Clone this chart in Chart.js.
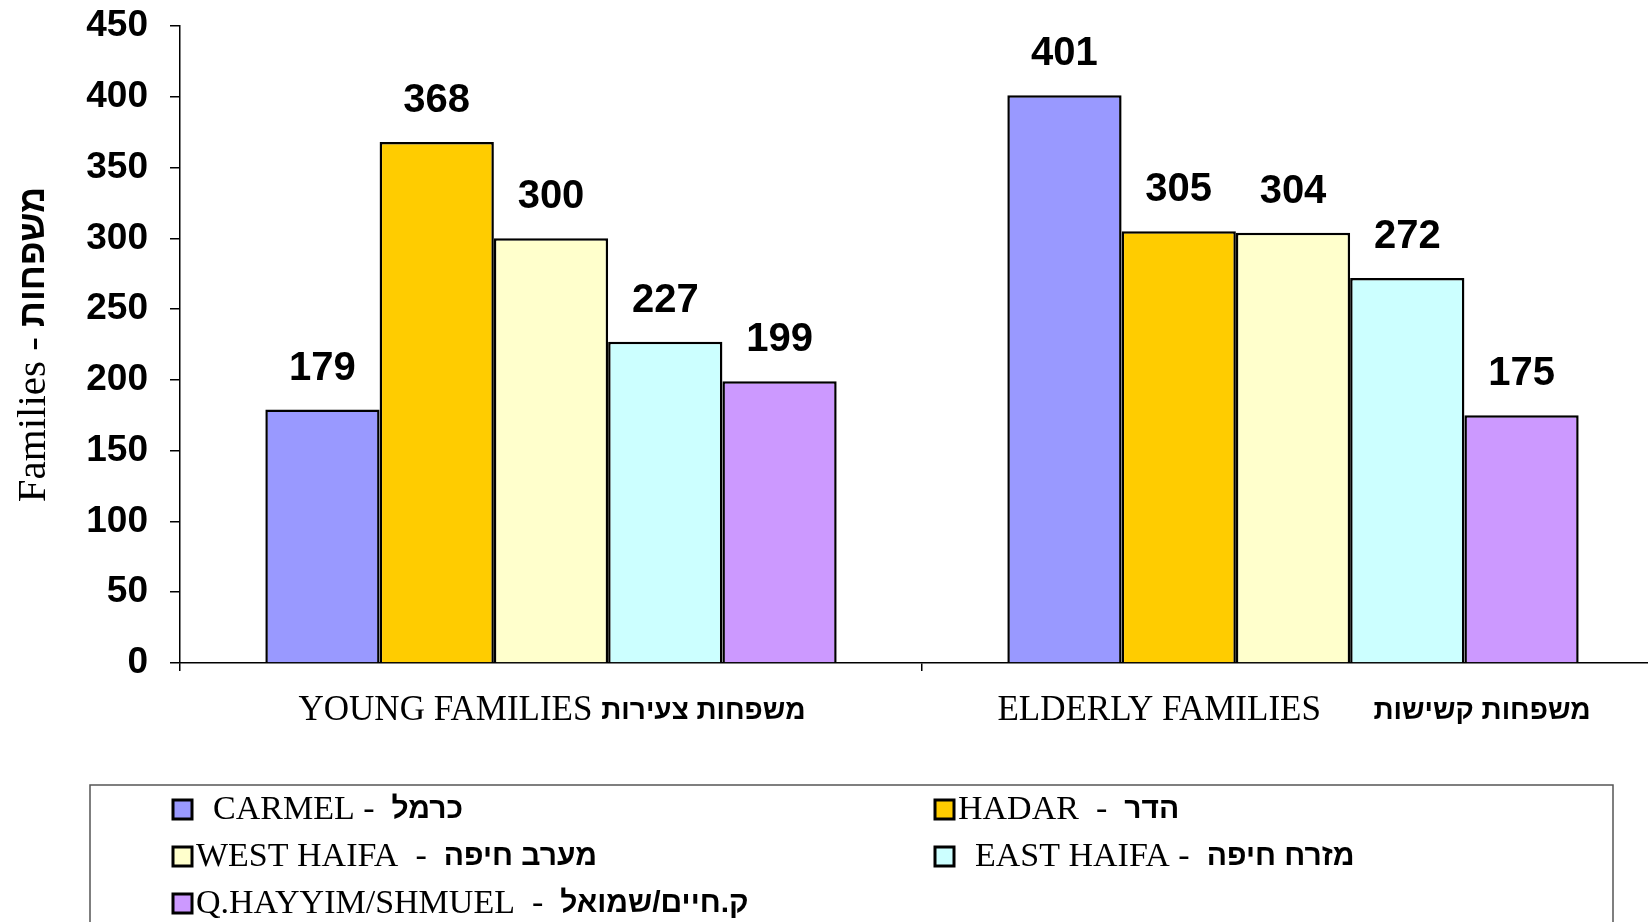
<!DOCTYPE html>
<html>
<head>
<meta charset="utf-8">
<script src="https://cdn.jsdelivr.net/npm/chart.js@4.4.1/dist/chart.umd.min.js"></script>
<style>
  html, body { margin: 0; padding: 0; background: #fff; overflow: hidden; }
  #wrap { position: relative; width: 1664px; height: 922px; }
</style>
</head>
<body>
<div id="wrap"><canvas id="chart"></canvas></div>
<script>
// data
const categories = ['YOUNG FAMILIES', 'ELDERLY FAMILIES'];
const categoriesHebrew = ['משפחות צעירות', 'משפחות קשישות'];
const seriesNames = ['CARMEL', 'HADAR', 'WEST HAIFA', 'EAST HAIFA', 'Q.HAYYIM/SHMUEL'];
const seriesHebrew = ['כרמל', 'הדר', 'מערב חיפה', 'מזרח חיפה', 'ק.חיים/שמואל'];
const carmel = [179, 401];
const hadar = [368, 305];
const westHaifa = [300, 304];
const eastHaifa = [227, 272];
const qHayyim = [199, 175];
const yTitleLatin = 'Families - ';
const yTitleHebrew = 'משפחות';

const seriesColors = ['#9999FF', '#FFCC00', '#FFFFCC', '#CCFFFF', '#CC99FF'];
const seriesValues = [carmel, hadar, westHaifa, eastHaifa, qHayyim];

const SERIF = '"Liberation Serif", "Times New Roman", serif';
const SANS = '"Liberation Sans", Arial, sans-serif';

// draws the value labels, the mixed-script axis texts and the legend box
const extrasPlugin = {
  id: 'extras',
  afterDraw(chart) {
    const ctx = chart.ctx;
    const area = chart.chartArea;
    const xScale = chart.scales.x;
    ctx.save();

    // values above bars
    ctx.fillStyle = '#000';
    ctx.font = 'bold 40px ' + SANS;
    ctx.textAlign = 'center';
    ctx.textBaseline = 'middle';
    chart.data.datasets.forEach((ds, di) => {
      const meta = chart.getDatasetMeta(di);
      meta.data.forEach((bar, i) => {
        ctx.fillText(String(ds.data[i]), bar.x, bar.y - 41);
      });
    });

    // category labels
    ctx.textAlign = 'left';
    categories.forEach((cat, i) => {
      const latin = cat + (i === 0 ? ' ' : '      ');
      ctx.font = '35px ' + SERIF;
      const wl = ctx.measureText(latin).width;
      ctx.font = 'bold 28px ' + SANS;
      const wh = ctx.measureText(categoriesHebrew[i]).width;
      const cx = xScale.getPixelForValue(i);
      const x0 = cx - (wl + wh) / 2 + 1;
      const y = area.bottom + 48;
      ctx.font = '35px ' + SERIF;
      ctx.fillText(latin, x0, y);
      ctx.font = 'bold 28px ' + SANS;
      ctx.fillText(categoriesHebrew[i], x0 + wl, y);
    });

    // y axis title
    ctx.save();
    ctx.translate(34, (area.top + area.bottom) / 2);
    ctx.rotate(-Math.PI / 2);
    ctx.font = '41px ' + SERIF;
    const tl = ctx.measureText(yTitleLatin).width;
    ctx.font = 'bold 36px ' + SANS;
    const th = ctx.measureText(yTitleHebrew).width;
    const t0 = -(tl + th) / 2;
    ctx.font = '41px ' + SERIF;
    ctx.fillText(yTitleLatin, t0, 0);
    ctx.font = 'bold 36px ' + SANS;
    ctx.fillText(yTitleHebrew, t0 + tl, 0);
    ctx.restore();

    // legend box
    ctx.strokeStyle = '#555';
    ctx.lineWidth = 1.5;
    ctx.strokeRect(90, 785, 1523, 160);
    const colX = [173, 935];
    const rowY = [810, 857, 904];
    seriesNames.forEach((name, i) => {
      const x = colX[i % 2];
      const y = rowY[Math.floor(i / 2)];
      ctx.fillStyle = seriesColors[i];
      ctx.fillRect(x, y - 10, 19, 19);
      ctx.strokeStyle = '#000';
      ctx.lineWidth = 3;
      ctx.strokeRect(x, y - 10, 19, 19);
      ctx.fillStyle = '#000';
      const latin = (i === 0 || i === 3 ? '  ' : '') + name + (i === 1 || i === 2 || i === 4 ? '  -  ' : ' -  ');
      ctx.font = '34px ' + SERIF;
      ctx.fillText(latin, x + 23, y);
      const wl = ctx.measureText(latin).width;
      ctx.font = 'bold 30px ' + SANS;
      ctx.fillText(seriesHebrew[i], x + 23 + wl, y);
    });

    ctx.restore();
  }
};

new Chart(document.getElementById('chart'), {
  type: 'bar',
  data: {
    labels: categories,
    datasets: seriesNames.map((name, i) => ({
      label: name,
      data: seriesValues[i],
      backgroundColor: seriesColors[i],
      borderColor: '#000',
      borderWidth: 2.5,
      categoryPercentage: 0.77,
      barPercentage: 1.0,
    })),
  },
  options: {
    responsive: true,
    maintainAspectRatio: false,
    animation: false,
    layout: { padding: { top: 26, left: 0, right: 0, bottom: 0 } },
    plugins: {
      legend: { display: false },
      tooltip: { enabled: false },
    },
    scales: {
      x: {
        offset: true,
        grid: {
          display: true,
          offset: true,
          drawOnChartArea: false,
          drawTicks: true,
          tickLength: 8,
          color: '#000',
          lineWidth: 1.5,
        },
        border: { color: '#000', width: 1.5 },
        ticks: { display: false },
        afterFit(scale) { scale.height = 922 - 663; },
      },
      y: {
        min: 0,
        max: 450,
        ticks: {
          stepSize: 50,
          color: '#000',
          padding: 22,
          font: { family: SANS, size: 37, weight: 'bold' },
        },
        grid: {
          drawOnChartArea: false,
          drawTicks: true,
          tickLength: 10,
          color: '#000',
          lineWidth: 1.5,
        },
        border: { color: '#000', width: 1.5 },
        afterFit(scale) {
          scale.width = 180;
          scale.paddingTop = 0;
          scale.paddingBottom = 0;
        },
      },
    },
  },
  plugins: [extrasPlugin],
});
</script>
</body>
</html>
